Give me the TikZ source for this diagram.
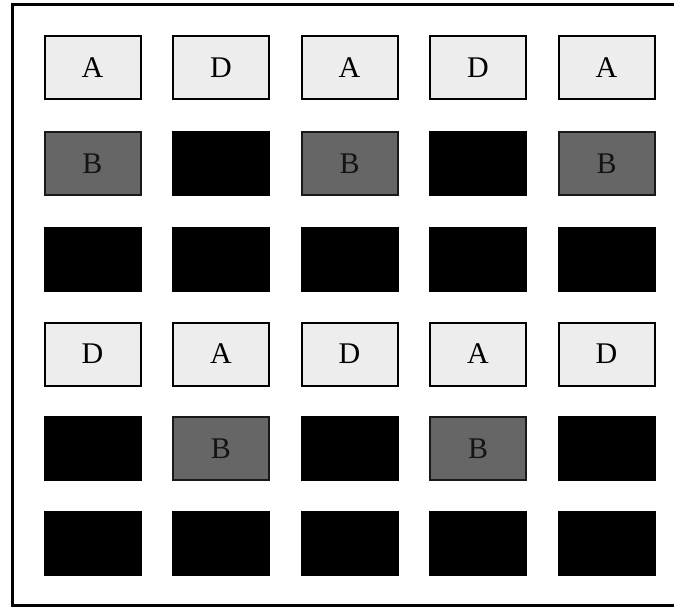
\documentclass[tikz,border=0pt]{standalone}
\usepackage{fontspec}
\setmainfont{Liberation Serif}
\begin{document}
\begin{tikzpicture}[x=1pt,y=-1pt,
  cell/.style={anchor=north west,minimum width=96pt,minimum height=63pt,inner sep=0pt,line width=2pt,font=\fontsize{30}{32}\selectfont},
  lightcell/.style={cell,draw=black,fill=black!7},
  bcell/.style={cell,draw=black!90,fill=black!60,text=black!92},
  darkcell/.style={cell,draw=black,fill=black}]
\useasboundingbox (0,0) rectangle (674,607);
\draw[line width=2.2pt] (12.5,4.5) rectangle (680,605.5);
% row 1
\node[lightcell] (r1c1) at (43.5,35.5) {A};
\node[lightcell] (r1c2) at (172,35.5) {D};
\node[lightcell] (r1c3) at (300.5,35.5) {A};
\node[lightcell] (r1c4) at (429,35.5) {D};
\node[lightcell] (r1c5) at (557.5,35.5) {A};
% row 2
\node[bcell] (r2c1) at (43.5,131) {B};
\node[darkcell] (r2c2) at (172,131) {};
\node[bcell] (r2c3) at (300.5,131) {B};
\node[darkcell] (r2c4) at (429,131) {};
\node[bcell] (r2c5) at (557.5,131) {B};
% row 3
\node[darkcell] (r3c1) at (43.5,226.5) {};
\node[darkcell] (r3c2) at (172,226.5) {};
\node[darkcell] (r3c3) at (300.5,226.5) {};
\node[darkcell] (r3c4) at (429,226.5) {};
\node[darkcell] (r3c5) at (557.5,226.5) {};
% row 4
\node[lightcell] (r4c1) at (43.5,321.5) {D};
\node[lightcell] (r4c2) at (172,321.5) {A};
\node[lightcell] (r4c3) at (300.5,321.5) {D};
\node[lightcell] (r4c4) at (429,321.5) {A};
\node[lightcell] (r4c5) at (557.5,321.5) {D};
% row 5
\node[darkcell] (r5c1) at (43.5,416) {};
\node[bcell] (r5c2) at (172,416) {B};
\node[darkcell] (r5c3) at (300.5,416) {};
\node[bcell] (r5c4) at (429,416) {B};
\node[darkcell] (r5c5) at (557.5,416) {};
% row 6
\node[darkcell] (r6c1) at (43.5,511) {};
\node[darkcell] (r6c2) at (172,511) {};
\node[darkcell] (r6c3) at (300.5,511) {};
\node[darkcell] (r6c4) at (429,511) {};
\node[darkcell] (r6c5) at (557.5,511) {};
\end{tikzpicture}
\end{document}
